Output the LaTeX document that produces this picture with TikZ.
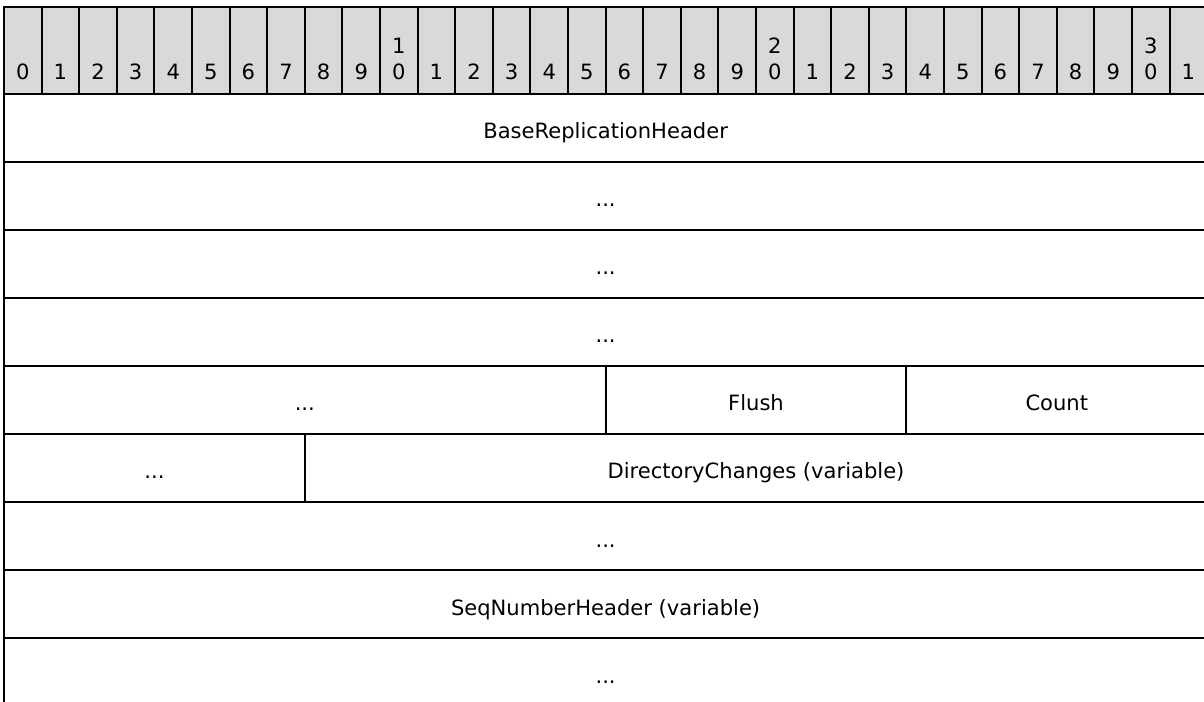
\documentclass[tikz,border=0pt]{standalone}
\usepackage{fontspec}
\setmainfont{DejaVu Sans}
\definecolor{hdrgray}{RGB}{217,217,217}
\newcommand{\fdots}{...}
\begin{document}
\begin{tikzpicture}[x=0.75pt,y=-0.75pt,
  cellline/.style={line width=1.5pt, draw=black},
  hdrcell/.style={cellline, fill=hdrgray},
  lbl/.style={anchor=base, inner sep=0pt, font=\fontsize{15.8}{19}\selectfont}]
\useasboundingbox (0,0) rectangle (1204,702);
\clip (0,0) rectangle (1204,702);
% column edges: x = 4 + 37.6*k ; header 7..94 ; field rows 68 high from 94
% bit-number header
\foreach \k in {0,...,31}{
  \draw[hdrcell] ({4+37.6*\k},7) rectangle ({4+37.6*(\k+1)},94);
  \pgfmathtruncatemacro{\ones}{mod(\k,10)}
  \pgfmathtruncatemacro{\tens}{div(\k,10)}
  \node[lbl] (b\k) at ({4+37.6*(\k+0.5)},80) {\ones};
  \ifnum\ones=0 \ifnum\k>0
    \node[lbl] (t\k) at ({4+37.6*(\k+0.5)},54) {\tens};
  \fi\fi
}
% field cells: first bit / last bit+1 / row / name / text
\foreach \a/\b/\r/\n/\t in {
  0/32/0/f0/BaseReplicationHeader,
  0/32/1/f1/\fdots,
  0/32/2/f2/\fdots,
  0/32/3/f3/\fdots,
  0/16/4/f4/\fdots,
  16/24/4/f5/Flush,
  24/32/4/f6/Count,
  0/8/5/f7/\fdots,
  8/32/5/f8/DirectoryChanges (variable),
  0/32/6/f9/\fdots,
  0/32/7/f10/SeqNumberHeader (variable),
  0/32/8/f11/\fdots}{
  \draw[cellline] ({4+37.6*\a},{94+68*\r}) rectangle ({4+37.6*\b},{94+68*(\r+1)});
  \node[lbl] (\n) at ({4+37.6*(\a+\b)/2},{94+68*\r+45}) {\t};
}
\end{tikzpicture}
\end{document}
